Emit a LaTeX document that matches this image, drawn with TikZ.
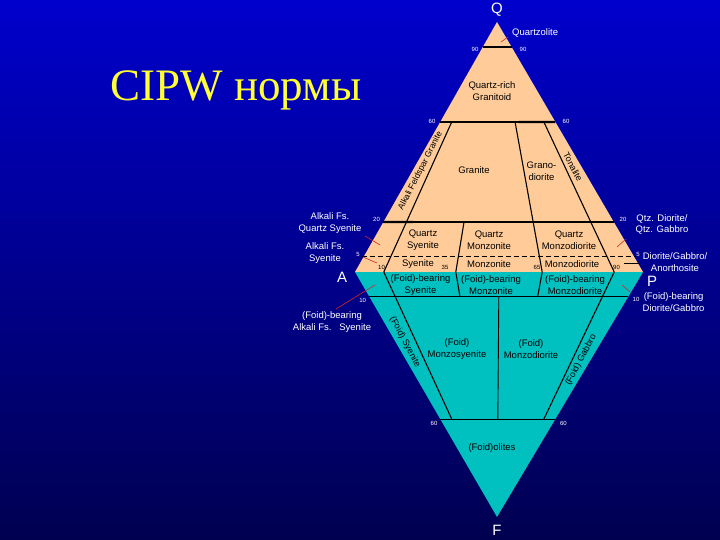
\documentclass[tikz,border=0pt]{standalone}
\usepackage{fontspec}
\setmainfont{Liberation Sans}
\newfontfamily\titlefont{Liberation Serif}
\usetikzlibrary{calc}
\definecolor{bgtop}{RGB}{0,0,204}
\definecolor{bgbot}{RGB}{0,0,80}
\definecolor{peach}{RGB}{255,204,153}
\definecolor{foidcyan}{RGB}{0,192,192}
\definecolor{titleyellow}{RGB}{255,255,51}
\definecolor{ptr}{RGB}{210,40,40}
\begin{document}
\begin{tikzpicture}[x=1pt,y=-1pt,
  region/.style={font=\fontsize{9.5}{11.5}\selectfont, text=black, align=center, inner sep=0pt},
  edgeregion/.style={region, font=\fontsize{9}{9}\selectfont},
  outlabel/.style={font=\fontsize{9.5}{11.5}\selectfont, text=white, align=center, inner sep=0pt},
  tick/.style={font=\fontsize{6}{6}\selectfont, text=white, inner sep=0pt},
  ticki/.style={tick, text=black},
  corner/.style={font=\fontsize{15}{15}\selectfont, text=white, inner sep=0pt},
  bound/.style={draw=black, line width=1.1pt},
  ptrline/.style={draw=ptr, line width=0.6pt}]
\useasboundingbox (0,0) rectangle (720,540);
\shade[top color=bgtop, bottom color=bgbot] (0,0) rectangle (720,540);

% corners
\coordinate (Q) at (497,22);
\coordinate (A) at (355,272);
\coordinate (P) at (643,272);
\coordinate (F) at (497,517);

\fill[peach] (Q) -- (A) -- (P) -- cycle;
\fill[foidcyan] (A) -- (P) -- (F) -- cycle;

% level points
\coordinate (qL90) at ($(A)!0.9!(Q)$);  \coordinate (qR90) at ($(P)!0.9!(Q)$);
\coordinate (qL60) at ($(A)!0.6!(Q)$);  \coordinate (qR60) at ($(P)!0.6!(Q)$);
\coordinate (qL20) at ($(A)!0.2!(Q)$);  \coordinate (qR20) at ($(P)!0.2!(Q)$);
\coordinate (fL10) at ($(A)!0.1!(F)$);  \coordinate (fR10) at ($(P)!0.1!(F)$);
\coordinate (fL60) at ($(A)!0.6!(F)$);  \coordinate (fR60) at ($(P)!0.6!(F)$);
\coordinate (a10) at ($(A)!0.10!(P)$);
\coordinate (a35) at ($(A)!0.35!(P)$);
\coordinate (a50) at ($(A)!0.50!(P)$);
\coordinate (a65) at ($(A)!0.65!(P)$);
\coordinate (a90) at ($(A)!0.90!(P)$);

% horizontal boundaries
\draw[bound, line width=2.2pt] (qL90) -- (qR90);
\draw[bound] (qL60) -- (qR60);
\draw[bound, line width=2.2pt] ($(qL60)!0.68!(qR60)$) -- (qR60);
\draw[bound] (qL20) -- (qR20);
\draw[bound, line width=2.2pt] (qL20) -- ($(qL20)!0.13!(qR20)$);
\coordinate (d5L) at (362,256);
\coordinate (d5R) at (636,256);
\draw[black, line width=0.9pt, dash pattern=on 5pt off 3pt] (d5L) -- (d5R);
\draw[bound, line width=1.8pt] (fL10) -- (fR10);
\draw[bound, line width=0.9pt] (fL60) -- (fR60);

% radial boundaries, upper triangle
\draw[bound] (a10) -- ($(a10)!0.6!(Q)$);
\draw[bound] (a35) -- ($(a35)!0.2!(Q)$);
\draw[bound] (a65) -- ($(a65)!0.6!(Q)$);
\draw[bound] (a90) -- ($(a90)!0.6!(Q)$);
% radial boundaries, lower triangle
\draw[bound] (a10) -- ($(a10)!0.6!(F)$);
\draw[bound] (a35) -- ($(a35)!0.1!(F)$);
\draw[bound] (a65) -- ($(a65)!0.1!(F)$);
\draw[bound] (a90) -- ($(a90)!0.6!(F)$);
\draw[bound, line width=0.9pt] ($(a50)!0.1!(F)$) -- ($(a50)!0.6!(F)$);

% title
\node[font=\titlefont\fontsize{45}{45}\selectfont, text=titleyellow, inner sep=0pt] (title) at (236,90) {CIPW нормы};

% corner letters
\node[corner] (lQ) at (497,10) {Q};
\node[corner] (lA) at (342,277) {A};
\node[corner] (lP) at (652,281) {P};
\node[corner] (lF) at (497,530) {F};

% region labels
\node[region] (rQrg) at (492,91) {Quartz-rich\\Granitoid};
\node[region] (rGr) at (474,170) {Granite};
\node[region] (rGd) at (541.5,171) {Grano-\\diorite};
\node[edgeregion, font=\fontsize{8.6}{8.6}\selectfont, rotate=63] (rAfg) at (420.5,171) {Alkali Feldspar Granite};
\node[edgeregion, rotate=-62] (rTo) at (573,167) {Tonalite};
\node[region] (rQs) at (423,240) {Quartz\\Syenite};
\node[region] (rQm) at (489,240) {Quartz\\Monzonite};
\node[region] (rQmd) at (569,240) {Quartz\\Monzodiorite};
\node[region] (rSy) at (418,264) {Syenite};
\node[region] (rMo) at (489,264) {Monzonite};
\node[region] (rMd) at (572,264) {Monzodiorite};
\node[region] (rFbs) at (420.5,285) {(Foid)-bearing\\Syenite};
\node[region] (rFbm) at (491,285) {(Foid)-bearing\\Monzonite};
\node[region] (rFbmd) at (575,285) {(Foid)-bearing\\Monzodiorite};
\node[region] (rFms) at (457,349) {(Foid)\\Monzosyenite};
\node[region] (rFmd) at (531,349) {(Foid)\\Monzodiorite};
\node[edgeregion, rotate=-62] (rFs) at (405,342) {(Foid) Syenite};
\node[edgeregion, rotate=62] (rFg) at (581,360) {(Foid) Gabbro};
\node[region] (rFo) at (492,448) {(Foid)olites};

% outside labels
\node[outlabel, anchor=west] (oQz) at (512,33) {Quartzolite};
\node[outlabel] (oAfqs) at (330,223) {Alkali Fs.\\Quartz Syenite};
\node[outlabel] (oAfs) at (325,253) {Alkali Fs.\\Syenite};
\node[outlabel] (oFbafs) at (332,322) {(Foid)-bearing\\Alkali Fs.\ \ \ Syenite};
\node[outlabel] (oQdg) at (662,224.5) {Qtz. Diorite/\\Qtz. Gabbro};
\node[outlabel] (oDga) at (675,262) {Diorite/Gabbro/\\Anorthosite};
\node[outlabel] (oFbdg) at (673.6,302) {(Foid)-bearing\\Diorite/Gabbro};

% pointer lines
\coordinate (pQz1) at (501,42);  \coordinate (pQz2) at (508,37);
\draw[ptrline] (pQz1) -- (pQz2);
\coordinate (pAq1) at (365,236); \coordinate (pAq2) at (380,245);
\draw[ptrline] (pAq1) -- (pAq2);
\coordinate (pAs1) at (363,257); \coordinate (pAs2) at (377,263);
\draw[ptrline] (pAs1) -- (pAs2);
\coordinate (pFa1) at (336,309); \coordinate (pFa2) at (375,285);
\draw[ptrline] (pFa1) -- (pFa2);
\coordinate (pQd1) at (617,247); \coordinate (pQd2) at (626,239);
\draw[ptrline] (pQd1) -- (pQd2);
\coordinate (pDg1) at (624,263); \coordinate (pDg2) at (640,263);
\draw[black, line width=0.8pt] (pDg1) -- (pDg2);
\coordinate (pFd1) at (622,285); \coordinate (pFd2) at (630,292);
\draw[ptrline] (pFd1) -- (pFd2);

% tick numbers
\node[tick] (t90L) at (475,49.5) {90};
\node[tick] (t90R) at (523,49.5) {90};
\node[tick] (t60L) at (432,121) {60};
\node[tick] (t60R) at (566,121) {60};
\node[tick] (t20L) at (376.5,219.5) {20};
\node[tick] (t20R) at (623,219.5) {20};
\node[tick] (t5L) at (358,254) {5};
\node[tick] (t5R) at (638,254) {5};
\node[ticki] (t10) at (381.5,267.5) {10};
\node[ticki] (t35) at (445,267.5) {35};
\node[ticki] (t65) at (537,267.5) {65};
\node[ticki] (t90) at (616.5,267.5) {90};
\node[tick] (tf10L) at (362.7,300) {10};
\node[tick] (tf10R) at (636,299) {10};
\node[tick] (tf60L) at (434,423) {60};
\node[tick] (tf60R) at (563.4,423) {60};
\end{tikzpicture}
\end{document}
